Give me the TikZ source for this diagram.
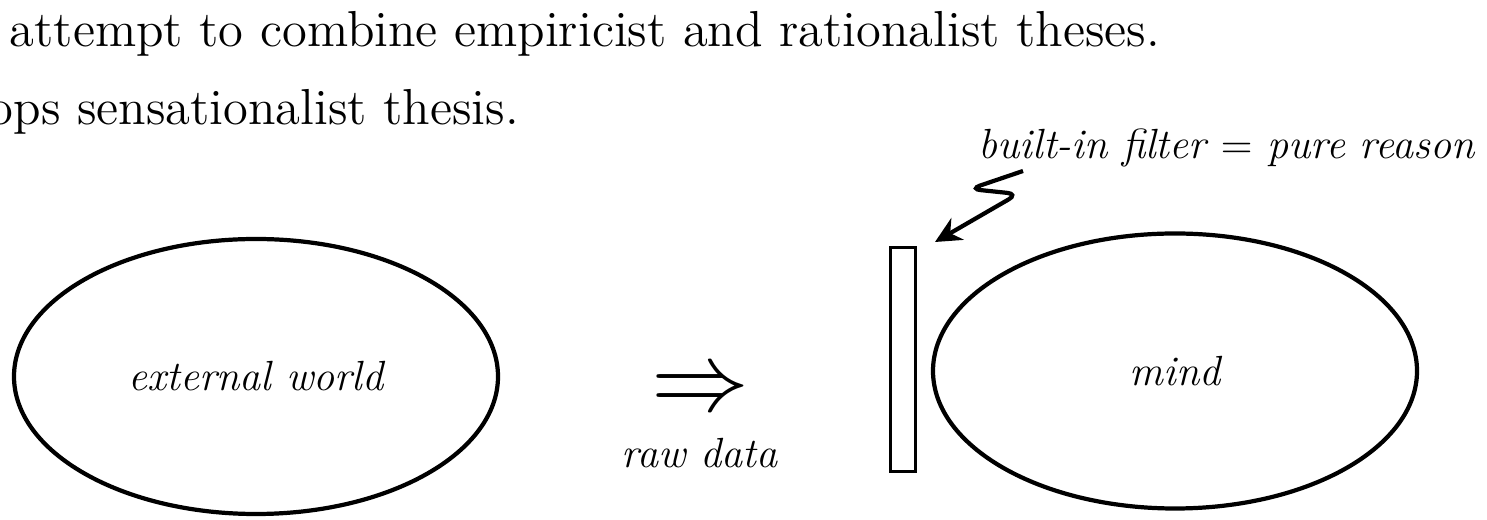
\documentclass[12pt,tikz,border=0pt]{standalone}
\usepackage{tikz}
\usetikzlibrary{arrows.meta,shapes.geometric}

\begin{document}
\begin{tikzpicture}[
      region/.style={draw, ellipse, line width=1.2pt, inner sep=0pt, font=\itshape, minimum width=4.84cm, minimum height=2.75cm},
      filterbox/.style={draw, rectangle, line width=1pt, inner sep=0pt, minimum width=0.25cm, minimum height=2.24cm},
      heading/.style={anchor=base west, font=\large, inner sep=0pt},
      note/.style={font=\itshape, inner sep=0pt},
      pointer/.style={-{Stealth[length=2.6mm, width=2.5mm]}, line width=1.2pt, rounded corners=3pt}
    ]
    \useasboundingbox (0,0) rectangle (14.87,5.20);
    \node[heading] (line1) at (0.09,4.73) {attempt to combine empiricist and rationalist theses.};
    \node[heading] (line2) at (-0.12,3.95) {ops sensationalist thesis.};

    \node[region] (world) at (2.56,1.435) {external world};
    \node[region] (mind) at (11.75,1.49) {mind};
    \node[filterbox] (filter) at (9.03,1.605) {};

    \node[font=\Huge, scale=1.12, inner sep=0pt] (implies) at (7.005,1.27) {$\Rightarrow$};
    \node[note, anchor=base] (raw) at (6.995,0.52) {raw data};
    \node[note, anchor=base] (reason) at (12.265,3.61) {built-in filter $=$ pure reason};

    \coordinate (zstart) at (10.23,3.49);
    \coordinate (ztip) at (9.35,2.78);
    \draw[pointer] (zstart) -- (9.70,3.31) -- (10.18,3.26) -- (ztip);
  \end{tikzpicture}
\end{document}
